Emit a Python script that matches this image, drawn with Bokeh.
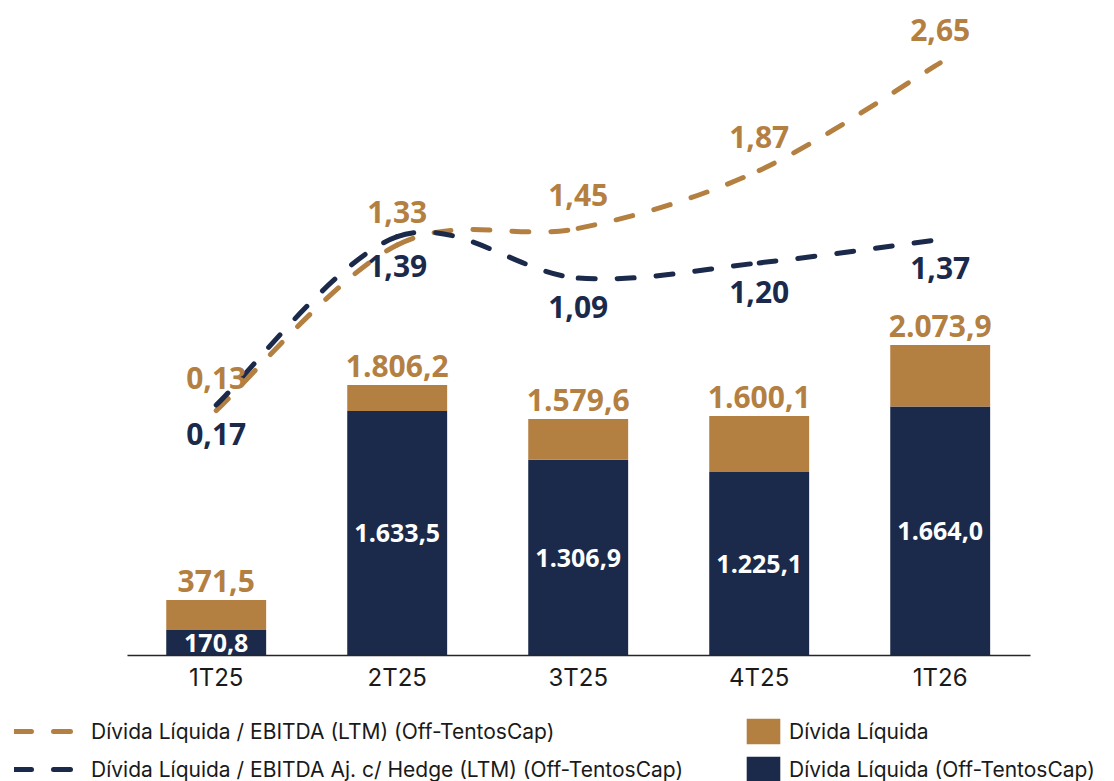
from bokeh.plotting import figure
from bokeh.models import Range1d, ColumnDataSource, Legend, LegendItem, FixedTicker, LinearAxis
from bokeh.core.properties import value
from bokeh.embed import file_html
from bokeh.resources import INLINE

# ---------------- data ----------------
quarters = ["1T25", "2T25", "3T25", "4T25", "1T26"]
divida_liquida = [371.5, 1806.2, 1579.6, 1600.1, 2073.9]
divida_off = [170.8, 1633.5, 1306.9, 1225.1, 1664.0]
ratio_ebitda = [0.13, 1.33, 1.45, 1.87, 2.65]
ratio_hedge = [0.17, 1.39, 1.09, 1.20, 1.37]

GOLD = "#B48042"
NAVY = "#1B2A4A"
FONT = "Open Sans"
LFONT = "Inter"


def br(v, d):
    s = f"{v:,.{d}f}"
    return s.replace(",", "X").replace(".", ",").replace("X", ".")


xs = list(range(len(quarters)))

p = figure(width=1114, height=781, output_backend="svg", toolbar_location=None,
           x_range=Range1d(-1.1917, 4.963), y_range=Range1d(-841.7, 4308.6),
           x_axis_location=None, y_axis_location=None,
           min_border_left=0, min_border_right=0, min_border_top=10,
           min_border_bottom=0)
p.extra_y_ranges = {"ratio": Range1d(-2.558, 3.029)}
p.outline_line_color = None
p.grid.visible = False
p.background_fill_color = "white"
p.border_fill_color = "white"

# ---------------- bars ----------------
src = ColumnDataSource(dict(
    x=xs, off=divida_off, total=divida_liquida,
    off_lbl=[br(v, 1) for v in divida_off],
    tot_lbl=[br(v, 1) for v in divida_liquida],
    mid=[v / 2 for v in divida_off],
))
r_navy = p.vbar(x="x", bottom=0, top="off", width=0.552, source=src,
                fill_color=NAVY, line_color=None)
r_gold = p.vbar(x="x", bottom="off", top="total", width=0.552, source=src,
                fill_color=GOLD, line_color=None)

p.text(x="x", y="total", text="tot_lbl", source=src, text_align="center",
       text_baseline="middle", y_offset=-19, text_color=GOLD,
       text_font=value(FONT), text_font_style="bold", text_font_size="30px")
p.text(x="x", y="mid", text="off_lbl", source=src, text_align="center",
       text_baseline="middle", text_color="white",
       text_font=value(FONT), text_font_style="bold", text_font_size="25px")


# ---------------- smooth dashed lines (Catmull-Rom -> Bezier) ----------------
def bezier_source(xv, yv):
    n = len(xv)
    d = dict(x0=[], y0=[], x1=[], y1=[], cx0=[], cy0=[], cx1=[], cy1=[])
    for i in range(n - 1):
        p0 = (xv[max(i - 1, 0)], yv[max(i - 1, 0)])
        p1 = (xv[i], yv[i])
        p2 = (xv[i + 1], yv[i + 1])
        p3 = (xv[min(i + 2, n - 1)], yv[min(i + 2, n - 1)])
        d["x0"].append(p1[0]); d["y0"].append(p1[1])
        d["x1"].append(p2[0]); d["y1"].append(p2[1])
        d["cx0"].append(p1[0] + (p2[0] - p0[0]) / 6)
        d["cy0"].append(p1[1] + (p2[1] - p0[1]) / 6)
        d["cx1"].append(p2[0] - (p3[0] - p1[0]) / 6)
        d["cy1"].append(p2[1] - (p3[1] - p1[1]) / 6)
    return ColumnDataSource(d)


DASH = "17 22"
r_l1 = p.bezier(x0="x0", y0="y0", x1="x1", y1="y1", cx0="cx0", cy0="cy0",
                cx1="cx1", cy1="cy1", source=bezier_source(xs, ratio_ebitda),
                y_range_name="ratio", line_color=GOLD, line_width=5,
                line_dash=DASH, line_cap="round")
r_l2 = p.bezier(x0="x0", y0="y0", x1="x1", y1="y1", cx0="cx0", cy0="cy0",
                cx1="cx1", cy1="cy1", source=bezier_source(xs, ratio_hedge),
                y_range_name="ratio", line_color=NAVY, line_width=5,
                line_dash=DASH, line_cap="round")

lsrc = ColumnDataSource(dict(
    x=xs, g=ratio_ebitda, n=ratio_hedge,
    gl=[br(v, 2) for v in ratio_ebitda], nl=[br(v, 2) for v in ratio_hedge],
))
p.text(x="x", y="g", text="gl", source=lsrc, y_range_name="ratio",
       text_align="center", text_baseline="middle", y_offset=-33,
       text_color=GOLD, text_font=value(FONT), text_font_style="bold",
       text_font_size="30px")
p.text(x="x", y="n", text="nl", source=lsrc, y_range_name="ratio",
       text_align="center", text_baseline="middle", y_offset=29,
       text_color=NAVY, text_font=value(FONT), text_font_style="bold",
       text_font_size="30px")

# ---------------- x axis (fixed at the bar baseline) ----------------
ax = LinearAxis(fixed_location=0, bounds=(-0.49, 4.5))
ax.ticker = FixedTicker(ticks=xs)
ax.major_label_overrides = {i: q for i, q in zip(xs, quarters)}
ax.major_tick_line_color = None
ax.minor_tick_line_color = None
ax.major_tick_out = 0
ax.minor_tick_out = 0
ax.axis_line_color = "#262626"
ax.axis_line_width = 1.5
ax.major_label_text_font = LFONT
ax.major_label_text_font_size = "24px"
ax.major_label_text_color = "#1a1a1a"
ax.major_label_standoff = 8
p.add_layout(ax, "below")

# ---------------- legends ----------------
leg_lines = Legend(items=[
    LegendItem(label="Dívida Líquida / EBITDA (LTM) (Off-TentosCap)", renderers=[r_l1]),
    LegendItem(label="Dívida Líquida / EBITDA Aj. c/ Hedge (LTM) (Off-TentosCap)", renderers=[r_l2]),
], location=(14, -4))
leg_bars = Legend(items=[
    LegendItem(label="Dívida Líquida", renderers=[r_gold]),
    LegendItem(label="Dívida Líquida (Off-TentosCap)", renderers=[r_navy]),
], location=(742, -4))
for lg, gw, st in ((leg_lines, 62, 15), (leg_bars, 42, 5)):
    lg.glyph_width = gw
    lg.glyph_height = 32
    lg.spacing = 6
    lg.padding = 0
    lg.margin = 0
    lg.label_standoff = st
    lg.label_text_font = LFONT
    lg.label_text_font_size = "21px"
    lg.label_text_color = "#1a1a1a"
    lg.label_height = 32
    lg.border_line_alpha = 0
    lg.background_fill_alpha = 0
    p.add_layout(lg)

open("out.html", "w").write(file_html(p, INLINE))
